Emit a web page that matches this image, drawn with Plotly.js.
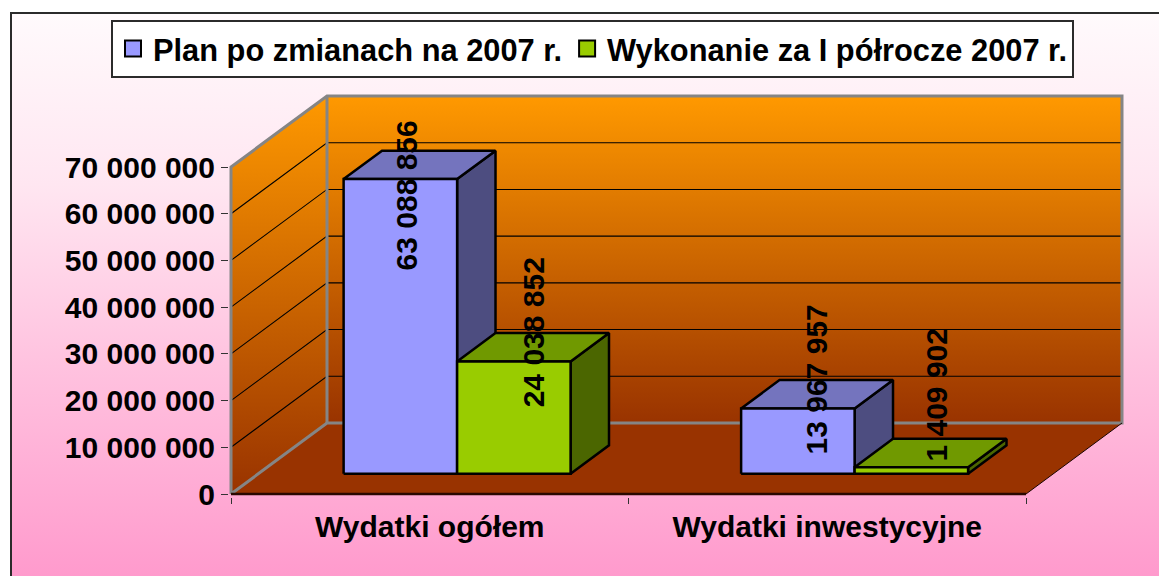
<!DOCTYPE html>
<html>
<head>
<meta charset="utf-8">
<script src="https://cdn.plot.ly/plotly-3.0.1.min.js"></script>
<style>
  html, body { margin: 0; padding: 0; background: #ffffff; width: 1159px; height: 576px; overflow: hidden; }
  #frame {
    position: absolute; left: 10px; top: 12px; width: 1300px; height: 570px;
    border: 2px solid #2b2b2b;
    background: linear-gradient(to bottom, #fffafc 0%, #ffe6f1 30%, #ffc4e0 60%, #ff99cc 100%);
  }
  #chart { position: absolute; left: 0; top: 0; width: 1159px; height: 576px; }
</style>
</head>
<body>
<div id="frame"></div>
<div id="chart"></div>
<script>
// ---------- data ----------
const categories = ['Wydatki ogółem', 'Wydatki inwestycyjne'];
const seriesNames = ['Plan po zmianach na 2007 r.', 'Wykonanie za I półrocze 2007 r.'];
const planValues = [63088856, 13967957];
const wykonanieValues = [24038852, 1409902];
const yTickVals = [0, 10000000, 20000000, 30000000, 40000000, 50000000, 60000000, 70000000];

// ---------- styles ----------
const seriesValues = [planValues, wykonanieValues];
const faceColors = [
  { front: '#9999FF', top: '#7474BE', side: '#4D4D80' },
  { front: '#99CC00', top: '#709900', side: '#4B6600' }
];
const labelXShift = [[-13, 0], [-1, 6]];   // per category, per series (px)
const labelYShift = [[-31, 15], [15, 58]];
const FONT = { family: 'Liberation Sans, Arial, sans-serif', size: 30, color: '#000000', weight: 'bold' };
const LEGEND_FONT = Object.assign({}, FONT, { size: 30.8 });

// ---------- geometry (pixel calibration of the 3D box) ----------
const W = 1159, H = 576;
const plotL = 229, plotR = 1125, plotT = 94, plotB = 497;
const frontLeftPx = 231, catPx = 397.5;        // px per category unit on the front plane
const zeroPx = 494, pxPerVal = 327 / 70000000; // y calibration
const depthPx = [96, 71];                      // depth vector in px (right, up)
const ddx = depthPx[0] / catPx, ddy = depthPx[1] / pxPerVal;
const xr = [-0.5 - (frontLeftPx - plotL) / catPx, -0.5 + (plotR - frontLeftPx) / catPx];
const yr = [-(plotB - zeroPx) / pxPerVal, (zeroPx - plotT) / pxPerVal];
const yMax = yTickVals[yTickVals.length - 1];
const xL = -0.5, xR = categories.length - 0.5;
const barW = 0.2855;        // category units per bar
const f0 = 0.285, f1 = 0.685; // bar front/back depth fractions

const traces = [];
function poly(xs, ys, opts) {
  traces.push(Object.assign({
    type: 'scatter', mode: 'lines', x: xs.concat([xs[0]]), y: ys.concat([ys[0]]),
    fill: 'toself', showlegend: false, hoverinfo: 'skip'
  }, opts));
}
function line(xs, ys, color, width) {
  traces.push({ type: 'scatter', mode: 'lines', x: xs, y: ys, line: { color: color, width: width },
    showlegend: false, hoverinfo: 'skip' });
}

const wallScale = [[0, '#993300'], [1, '#FF9900']];
// floor
poly([xL, xR, xR + ddx, xL + ddx], [0, 0, ddy, ddy], { fillcolor: '#993300', line: { width: 0 } });
// side wall
poly([xL, xL + ddx, xL + ddx, xL], [0, ddy, yMax + ddy, yMax],
  { line: { width: 0 }, fillgradient: { type: 'vertical', colorscale: wallScale, start: 0, stop: yMax + ddy } });
// back wall
poly([xL + ddx, xR + ddx, xR + ddx, xL + ddx], [ddy, ddy, yMax + ddy, yMax + ddy],
  { line: { width: 0 }, fillgradient: { type: 'vertical', colorscale: wallScale, start: ddy, stop: yMax + ddy } });
// gridlines
yTickVals.slice(1, -1).forEach(v => {
  line([xL, xL + ddx, xR + ddx], [v, v + ddy, v + ddy], '#000000', 1.1);
});
// wall borders
const gray = '#858585';
line([xL, xL, xL + ddx, xR + ddx, xR + ddx, xL + ddx, xL], [0, yMax, yMax + ddy, yMax + ddy, ddy, ddy, 0], gray, 3);
line([xL + ddx, xL + ddx], [ddy, yMax + ddy], gray, 3);
// floor front + right edges
line([xR + ddx, xR], [ddy, 0], '#1a0500', 1);
line([xL, xR], [0, 0], '#2a0800', 2.5);

// bars
const annotations = [];
categories.forEach((cat, i) => {
  seriesValues.forEach((vals, s) => {
    const v = vals[i];
    const x0 = i - barW + s * barW, x1 = x0 + barW;
    const ax0 = x0 + f0 * ddx, ax1 = x1 + f0 * ddx, ay = f0 * ddy;
    const bx0 = x0 + f1 * ddx, bx1 = x1 + f1 * ddx, by = f1 * ddy;
    const c = faceColors[s];
    const ln = { color: '#000000', width: 2.5 };
    poly([ax1, bx1, bx1, ax1], [ay, by, v + by, v + ay], { fillcolor: c.side, line: ln });
    poly([ax0, ax1, bx1, bx0], [v + ay, v + ay, v + by, v + by], { fillcolor: c.top, line: ln });
    poly([ax0, ax1, ax1, ax0], [ay, ay, v + ay, v + ay], { fillcolor: c.front, line: ln });
    const fm = (f0 + f1) / 2;
    annotations.push({
      x: (x0 + x1) / 2 + fm * ddx, y: v + fm * ddy, xref: 'x', yref: 'y',
      text: String(v).replace(/\B(?=(\d{3})+(?!\d))/g, ' '),
      textangle: -90, showarrow: false, xanchor: 'center', yanchor: 'middle',
      xshift: labelXShift[i][s], yshift: labelYShift[i][s], font: FONT
    });
  });
});

// legend entries
seriesNames.forEach((n, s) => {
  traces.push({ type: 'scatter', mode: 'markers', x: [null], y: [null], name: n,
    marker: { symbol: 'square', size: 18, color: faceColors[s].front, line: { color: '#000000', width: 2 } },
    hoverinfo: 'skip' });
});

const layout = {
  width: W, height: H,
  margin: { l: plotL, r: W - plotR, t: plotT, b: H - plotB, pad: 0 },
  paper_bgcolor: 'rgba(0,0,0,0)', plot_bgcolor: 'rgba(0,0,0,0)',
  separators: '. ',
  font: FONT,
  hovermode: false,
  showlegend: true,
  legend: {
    orientation: 'h',
    x: (111 - plotL) / (plotR - plotL), xanchor: 'left',
    y: (plotB - 20) / (plotB - plotT), yanchor: 'top',
    bgcolor: '#ffffff', bordercolor: '#2b2b2b', borderwidth: 2, font: LEGEND_FONT,
    itemsizing: 'trace', tracegroupgap: 0
  },
  xaxis: {
    range: xr, showgrid: false, zeroline: false, showline: false,
    tickmode: 'array', tickvals: categories.map((c, i) => i), ticktext: categories,
    ticks: '', tickfont: FONT, ticklabelstandoff: 9,
    minor: { tickmode: 'linear', tick0: -0.5, dtick: 1, ticks: 'outside', ticklen: 6, tickcolor: '#333333', tickwidth: 1, showgrid: false },
    fixedrange: true
  },
  yaxis: {
    range: yr, showgrid: false, zeroline: false, showline: false,
    tickmode: 'array', tickvals: yTickVals, tickformat: ',d',
    ticks: 'outside', ticklen: 7, tickcolor: '#333333', tickwidth: 1,
    tickfont: FONT, fixedrange: true
  },
  annotations: annotations
};

Plotly.newPlot('chart', traces, layout, { displayModeBar: false, staticPlot: true });
</script>
</body>
</html>
